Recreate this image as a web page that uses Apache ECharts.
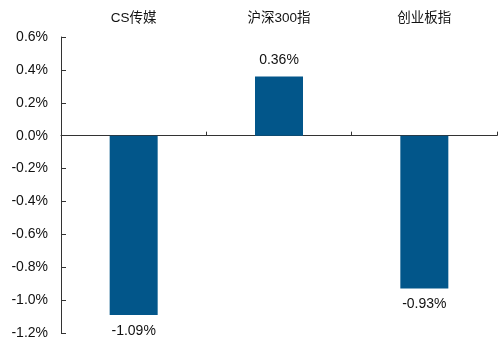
<!DOCTYPE html>
<html><head><meta charset="utf-8">
<script src="https://cdn.jsdelivr.net/npm/echarts@6/dist/echarts.min.js"></script>
<style>html,body{margin:0;padding:0;background:#fff}#c{width:498px;height:341px}</style>
</head><body><div id="c"></div>
<script>
const categories = ['CS传媒', '沪深300指', '创业板指'];
const values = [-1.09, 0.36, -0.93];
const yTicks = { min: -1.2, max: 0.6, interval: 0.2 };

const font = '"Liberation Sans", Arial, "Noto Sans CJK SC", sans-serif';
const chart = echarts.init(document.getElementById('c'));
chart.setOption({
  animation: false,
  grid: { left: 61, right: 1, top: 37, bottom: 8, containLabel: false },
  xAxis: [
    {
      type: 'category', data: categories, position: 'bottom',
      axisLine: { onZero: true, lineStyle: { color: '#333', width: 1 } },
      axisTick: { show: true, inside: true, length: 4, lineStyle: { color: '#333' } },
      axisLabel: { show: false }
    },
    {
      type: 'category', data: categories, position: 'top',
      axisLine: { show: false, onZero: false }, axisTick: { show: false },
      axisLabel: { show: true, color: '#111', fontSize: 13.5, fontFamily: font, margin: 12 }
    }
  ],
  yAxis: {
    type: 'value', min: yTicks.min, max: yTicks.max, interval: yTicks.interval,
    axisLine: { show: true, lineStyle: { color: '#333' } },
    axisTick: { show: true, inside: true, length: 5, lineStyle: { color: '#333' } },
    splitLine: { show: false },
    axisLabel: { color: '#111', fontSize: 14, fontFamily: font, margin: 13,
      formatter: v => v.toFixed(1) + '%' }
  },
  series: [{
    type: 'bar', xAxisIndex: 0, barWidth: 48,
    itemStyle: { color: '#02568A' },
    data: values.map(v => ({
      value: v,
      label: { show: true, position: v >= 0 ? 'top' : 'bottom', distance: 9,
        color: '#111', fontSize: 14, fontFamily: font,
        formatter: p => p.value.toFixed(2) + '%' }
    }))
  }]
});
</script></body></html>
